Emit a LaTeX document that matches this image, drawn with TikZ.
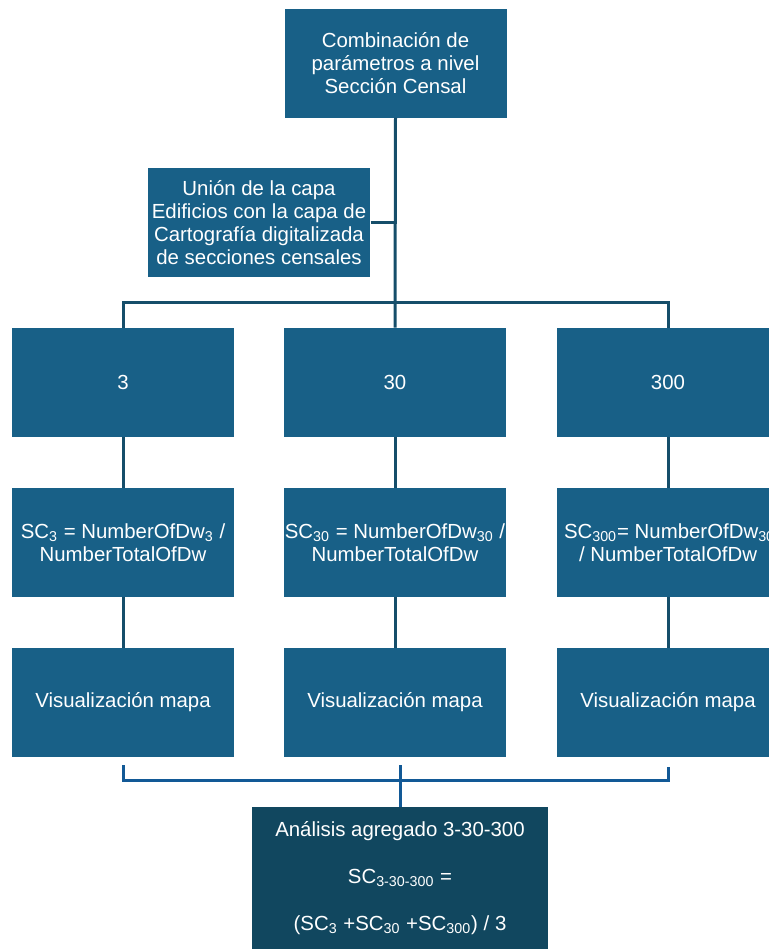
\documentclass[tikz,border=0pt]{standalone}
\usepackage{fontspec}
\setmainfont{Liberation Sans}
\definecolor{boxblue}{HTML}{186087}
\definecolor{aggblue}{HTML}{11475F}
\definecolor{linkdark}{HTML}{164E6A}
\definecolor{linkblue}{HTML}{125996}
\newcommand{\fixline}[2][c]{\makebox[104pt][#1]{#2}}
\tikzset{
  box/.style={fill=boxblue,text=white,align=center,inner sep=2pt,
    minimum width=111pt,minimum height=54.5pt,
    font=\fontsize{10.2}{11.6}\selectfont},
  link/.style={draw=linkdark,line width=1.5pt},
  linkb/.style={draw=linkblue,line width=1.5pt}
}
\begin{document}
\begin{tikzpicture}[x=0.5pt,y=-0.5pt]
    \useasboundingbox (0,0) rectangle (769,949);
    %% top of the tree
    \node[box] (comb) at (395.5,63) {Combinación de\\parámetros a nivel\\Sección Censal};
    \node[box] (union) at (259,222.5) {Unión de la capa\\Edificios con la capa de\\Cartografía digitalizada\\de secciones censales};
    %% three columns
    \foreach \i/\x/\n/\sc in {1/123/3/{\fixline{SC\textsubscript{3} = NumberOfDw\textsubscript{3} /}\\\fixline{NumberTotalOfDw}},
                              2/395/30/{\fixline{SC\textsubscript{30} = NumberOfDw\textsubscript{30} /}\\\fixline{NumberTotalOfDw}},
                              3/668/300/{\fixline[l]{SC\textsubscript{300}= NumberOfDw\textsubscript{300}}\\\fixline{/ NumberTotalOfDw}}} {
        \node[box] (num\i) at (\x,382.5) {\n};
        \node[box] (sc\i) at (\x,542.5) {\sc};
        \node[box] (map\i) at (\x,702.5) {Visualización mapa};
        \draw[link] (num\i.south) -- (sc\i.north);
        \draw[link] (sc\i.south) -- (map\i.north);
    }
    %% aggregated result
    \node[box,fill=aggblue,minimum width=148pt,minimum height=71pt] (agg) at (400,878)
        {Análisis agregado 3-30-300\\[12pt]SC\textsubscript{3-30-300} =\\[12pt](SC\textsubscript{3} +SC\textsubscript{30} +SC\textsubscript{300}) / 3};
    %% connectors
    \coordinate (split) at (395,302);
    \coordinate (merge) at (400,780);
    \draw[link] (comb.south) -- (num2.north);
    \draw[link] (union.east) -- (union.east -| split);
    \draw[link] (num1.north) |- (split) -| (num3.north);
    \draw[linkb] ([yshift=-4pt]map1.south) |- (merge) -| ([yshift=-5pt]map3.south);
    \draw[linkb] (agg.north) -- ++(0,-42);
\end{tikzpicture}
\end{document}
